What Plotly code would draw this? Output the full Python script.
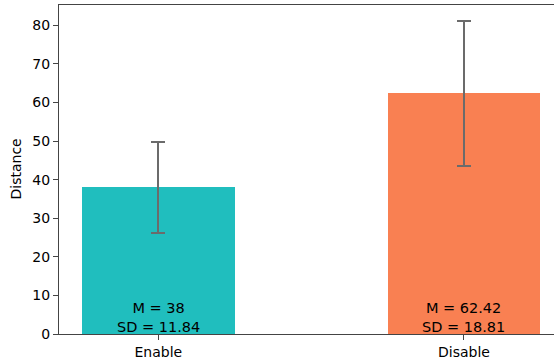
import plotly.graph_objects as go

categories = ["Enable", "Disable"]
means = [38, 62.42]
sds = [11.84, 18.81]
mean_labels = ["38", "62.42"]
sd_labels = ["11.84", "18.81"]
colors = ["#20BEBE", "#F98052"]

W, H = 554, 363
ml, mt, mb = 59, 5, 29

fig = go.Figure()
fig.add_trace(go.Bar(
    x=categories, y=means, width=0.5,
    marker=dict(color=colors, line=dict(width=0)),
    error_y=dict(type="data", array=sds, visible=True, color="#6b6b6b", thickness=2, width=7),
    showlegend=False,
))

for c, m, s in zip(categories, mean_labels, sd_labels):
    fig.add_annotation(x=c, y=0, xref="x", yref="y", text=f"M = {m}<br>SD = {s}",
                       showarrow=False, yanchor="bottom", xanchor="center",
                       font=dict(family="DejaVu Sans", size=14.5, color="black"), yshift=-3)

fig.add_annotation(xref="paper", yref="paper", x=(15 - ml) / (W - ml), y=0.5,
                   text="Distance", textangle=-90, showarrow=False,
                   xanchor="center", yanchor="middle",
                   font=dict(family="DejaVu Sans", size=14, color="black"))

fig.update_layout(
    width=W, height=H,
    margin=dict(l=ml, r=0, t=mt, b=mb, pad=0),
    plot_bgcolor="white", paper_bgcolor="white",
    font=dict(family="DejaVu Sans", size=14, color="black"),
    bargap=0,
)
fig.update_xaxes(range=[-0.325, 1.2946], showgrid=False, showline=True, linecolor="#444444",
                 linewidth=1.2, mirror=True, ticks="outside", ticklen=5, tickcolor="#444444",
                 tickwidth=1, zeroline=False)
fig.update_yaxes(range=[0, 85.29], showgrid=False, showline=True, linecolor="#444444",
                 linewidth=1.2, ticks="outside", ticklen=5, tickcolor="#444444", tickwidth=1,
                 tickvals=[0, 10, 20, 30, 40, 50, 60, 70, 80], zeroline=False)

fig.write_html("out.html", config={"displayModeBar": False},
               post_script="document.body.style.margin='0';document.body.style.overflow='hidden';")
